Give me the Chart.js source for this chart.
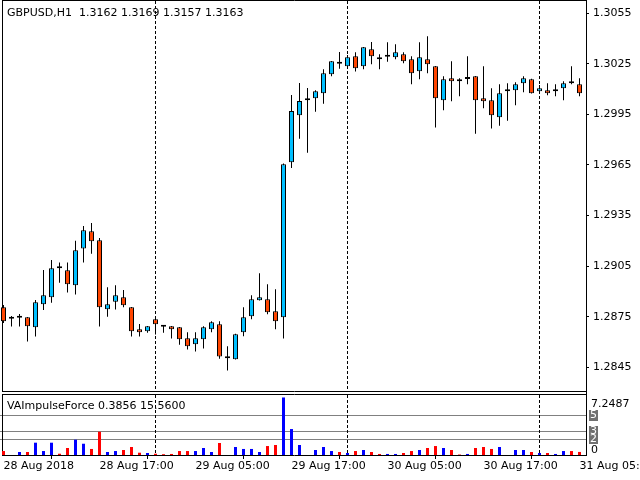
<!DOCTYPE html>
<html>
<head>
<meta charset="utf-8">
<script src="https://cdn.jsdelivr.net/npm/chart.js@4.4.1/dist/chart.umd.min.js"></script>
<style>
  html, body { margin: 0; padding: 0; background: #fff; }
  #wrap { position: relative; width: 640px; height: 480px; overflow: hidden; }
  #priceChart { position: absolute; left: 0; top: 0; }
  #impulseChart { position: absolute; left: 0; top: 392px; }
</style>
</head>
<body>
<div id="wrap">
  <canvas id="priceChart" width="640" height="392"></canvas>
  <canvas id="impulseChart" width="640" height="88"></canvas>
</div>
<script>
// GBPUSD H1 bars, 28 Aug 2018 05:00 .. 31 Aug 2018 05:00
var openP = [1.28806,1.28737,1.28744,1.28747,1.28687,1.28824,1.28865,1.29040,1.29026,1.28937,
             1.29154,1.29257,1.29203,1.28794,1.28838,1.28865,1.28806,1.28676,1.28664,1.28735,
             1.28692,1.28693,1.28687,1.28622,1.28586,1.28616,1.28676,1.28705,1.28504,1.28498,
             1.28658,1.28753,1.28848,1.28854,1.28782,1.28747,1.29666,1.29945,1.30034,1.30046,
             1.30076,1.30188,1.30252,1.30236,1.30295,1.30236,1.30336,1.30289,1.30292,1.30289,
             1.30307,1.30277,1.30206,1.30277,1.30236,1.30034,1.30165,1.30159,1.30160,1.30176,
             1.30046,1.30034,1.29933,1.30087,1.30093,1.30135,1.30159,1.30087,1.30093,1.30088,
             1.30105,1.30147,1.30129];
var highP = [1.28820,1.28754,1.28766,1.28748,1.28849,1.29027,1.29087,1.29071,1.29071,1.29201,
             1.29288,1.29306,1.29217,1.28925,1.28937,1.28909,1.28808,1.28707,1.28695,1.28737,
             1.28695,1.28695,1.28689,1.28658,1.28658,1.28693,1.28723,1.28723,1.28575,1.28648,
             1.28806,1.28877,1.29008,1.28942,1.28913,1.29659,1.30066,1.30137,1.30107,1.30093,
             1.30218,1.30267,1.30320,1.30303,1.30319,1.30350,1.30380,1.30307,1.30378,1.30366,
             1.30319,1.30295,1.30378,1.30414,1.30238,1.30176,1.30265,1.30165,1.30295,1.30178,
             1.30236,1.30105,1.30129,1.30135,1.30141,1.30176,1.30161,1.30125,1.30135,1.30129,
             1.30147,1.30236,1.30165];
var lowP  = [1.28713,1.28691,1.28691,1.28602,1.28632,1.28790,1.28833,1.28952,1.28893,1.28881,
             1.29071,1.29124,1.28691,1.28750,1.28792,1.28806,1.28632,1.28632,1.28655,1.28644,
             1.28655,1.28620,1.28584,1.28555,1.28543,1.28561,1.28658,1.28501,1.28430,1.28496,
             1.28634,1.28735,1.28846,1.28765,1.28676,1.28620,1.29632,1.29806,1.29723,1.29966,
             1.30014,1.30176,1.30221,1.30226,1.30204,1.30218,1.30248,1.30218,1.30263,1.30277,
             1.30253,1.30129,1.30159,1.30194,1.29872,1.29975,1.30028,1.30058,1.30129,1.29836,
             1.29987,1.29866,1.29883,1.29913,1.30004,1.30081,1.30074,1.30077,1.30064,1.30058,
             1.30034,1.30129,1.30058];
var closeP = [1.28723,1.28737,1.28756,1.28693,1.28836,1.28877,1.29037,1.29038,1.28943,1.29144,
              1.29263,1.29198,1.28806,1.28824,1.28877,1.28818,1.28664,1.28658,1.28693,1.28705,
              1.28690,1.28676,1.28616,1.28575,1.28622,1.28687,1.28717,1.28513,1.28504,1.28646,
              1.28747,1.28854,1.28865,1.28776,1.28723,1.29654,1.29970,1.30030,1.30034,1.30087,
              1.30194,1.30265,1.30250,1.30289,1.30224,1.30348,1.30295,1.30277,1.30293,1.30319,
              1.30265,1.30194,1.30289,1.30248,1.30046,1.30159,1.30147,1.30147,1.30161,1.30034,
              1.30028,1.29945,1.30076,1.30087,1.30129,1.30165,1.30076,1.30105,1.30076,1.30090,
              1.30135,1.30135,1.30076];
// VAImpulseForce histogram, sign gives the colour (minus = red)
var impulse = [-0.50,0,0.38,-0.38,1.55,0.50,1.55,-0.16,-0.88,1.93,
               1.42,-0.76,-2.93,0.38,0.50,-0.63,-1.01,-0.29,0.25,-0.16,
               -0.10,-0.13,-0.50,-0.50,0.50,0.88,0.38,-1.51,0,1.01,
               0.76,0.76,0.38,-1.13,-1.26,7.2487,3.27,1.26,0,0.63,
               1.01,0.50,-0.38,0.25,-0.50,0.63,-0.38,-0.13,0.13,0.13,
               -0.25,-0.50,0.63,-0.88,-1.13,0.88,-0.63,-0.06,0.13,-0.88,
               -1.01,-0.76,1.01,0,0.63,0.63,-0.38,0.25,-0.25,0.13,
               0.50,-0.50,-0.3856];
var priceTicks = [1.2845, 1.2875, 1.2905, 1.2935, 1.2965, 1.2995, 1.3025, 1.3055];
var timeTickBars = [0, 12, 24, 36, 48, 60, 72];
var timeTickLabels = ['28 Aug 2018', '28 Aug 17:00', '29 Aug 05:00', '29 Aug 17:00',
                      '30 Aug 05:00', '30 Aug 17:00', '31 Aug 05:00'];
var daySeparators = [19, 43, 67];
var impulseLevels = [5, 3, 2];

var mainTitle = 'GBPUSD,H1  1.3162 1.3169 1.3157 1.3163';
var subTitle = 'VAImpulseForce 0.3856 15.5600';

var upColor = '#00BFFF', downColor = '#FF4500';
var FONT = '11px "DejaVu Sans"';

Chart.defaults.font.family = 'DejaVu Sans';
Chart.defaults.font.size = 11;
Chart.defaults.color = '#000';

var bodies = [], wicks = [], bodyColors = [];
for (var i = 0; i < openP.length; i++) {
    bodies.push({x: i, y: [Math.min(openP[i], closeP[i]), Math.max(openP[i], closeP[i])]});
    wicks.push({x: i, y: [lowP[i], highP[i]]});
    bodyColors.push(closeP[i] > openP[i] ? upColor : downColor);
}
var impBars = [], impColors = [];
for (var j = 0; j < impulse.length; j++) {
    impBars.push({x: j, y: Math.abs(impulse[j])});
    impColors.push(impulse[j] < 0 ? '#FF0000' : '#0000FF');
}

var xMin = -0.4375, xMax = 72.8125;

var separators = function(chart) {
    var ctx = chart.ctx, a = chart.chartArea, xs = chart.scales.x;
    ctx.save();
    ctx.strokeStyle = '#000';
    ctx.lineWidth = 1;
    ctx.setLineDash([3, 2]);
    daySeparators.forEach(function(b) {
        var px = Math.floor(xs.getPixelForValue(b)) + 0.5;
        ctx.beginPath();
        ctx.moveTo(px, a.top);
        ctx.lineTo(px, a.bottom);
        ctx.stroke();
    });
    ctx.restore();
};

var frame = function(ctx, top, bottom) {
    ctx.save();
    ctx.strokeStyle = '#000';
    ctx.lineWidth = 1;
    ctx.beginPath();
    ctx.moveTo(2.5, top); ctx.lineTo(2.5, bottom + 1);
    ctx.moveTo(2, top + 0.5); ctx.lineTo(587, top + 0.5);
    ctx.moveTo(2, bottom + 0.5); ctx.lineTo(587, bottom + 0.5);
    ctx.moveTo(586.5, 0); ctx.lineTo(586.5, bottom + 1);
    ctx.stroke();
    ctx.restore();
};

var mainDecor = {
    id: 'mainDecor',
    beforeDatasetsDraw: function(chart) {
        separators(chart);
        frame(chart.ctx, 0, 391);
    },
    afterDraw: function(chart) {
        var ctx = chart.ctx;
        ctx.save();
        ctx.font = FONT;
        ctx.fillStyle = '#000';
        ctx.textBaseline = 'alphabetic';
        ctx.fillText(mainTitle, 7, 15.5);
        ctx.restore();
    }
};

var subDecor = {
    id: 'subDecor',
    beforeDatasetsDraw: function(chart) {
        separators(chart);
        frame(chart.ctx, 2, 63);
    },
    afterDraw: function(chart) {
        var ctx = chart.ctx, ys = chart.scales.y;
        ctx.save();
        ctx.font = FONT;
        ctx.fillStyle = '#000';
        ctx.textBaseline = 'alphabetic';
        ctx.fillText(subTitle, 7, 16.5);
        var maxV = Math.max.apply(null, impulse.map(Math.abs));
        ctx.fillText(maxV.toFixed(4), 591, 15);
        impulseLevels.forEach(function(L) {
            var py = Math.round(ys.getPixelForValue(L));
            ctx.fillStyle = '#707070';
            ctx.fillRect(589, py - 5, 9, 11);
            ctx.fillStyle = '#fff';
            ctx.textAlign = 'center';
            ctx.textBaseline = 'middle';
            ctx.fillText(String(L), 593.5, py + 0.5);
        });
        var p0 = ys.getPixelForValue(0);
        ctx.fillStyle = '#fff';
        ctx.fillRect(588, p0 - 11, 14, 11);
        ctx.fillStyle = '#000';
        ctx.textAlign = 'left';
        ctx.textBaseline = 'alphabetic';
        ctx.fillText('0', 591, p0 - 2.3);
        ctx.restore();
    }
};

var priceChart = new Chart(document.getElementById('priceChart'), {
    type: 'bar',
    data: {
        datasets: [{
            label: 'body',
            data: bodies,
            backgroundColor: bodyColors,
            borderColor: '#000',
            borderWidth: 1,
            borderSkipped: false,
            barThickness: 5,
            minBarLength: 2,
            inflateAmount: 0,
            grouped: false,
            order: 0
        }, {
            label: 'wick',
            data: wicks,
            backgroundColor: '#000',
            borderWidth: 0,
            barThickness: 1,
            inflateAmount: 0,
            grouped: false,
            order: 1
        }]
    },
    options: {
        responsive: false,
        animation: false,
        devicePixelRatio: 1,
        layout: { padding: { top: 1, bottom: 1, left: 0, right: 0 } },
        plugins: { legend: { display: false }, tooltip: { enabled: false } },
        scales: {
            x: { type: 'linear', min: xMin, max: xMax, offset: false, display: false },
            y: {
                position: 'right',
                min: 1.28309,
                max: 1.30623,
                border: { display: false },
                grid: { drawOnChartArea: false, drawTicks: true, tickLength: 3, color: '#000' },
                ticks: {
                    padding: 4,
                    autoSkip: false,
                    callback: function(v) { return Number(v).toFixed(4); }
                },
                afterBuildTicks: function(s) {
                    s.ticks = priceTicks.map(function(v) { return {value: v}; });
                },
                afterFit: function(s) { s.width = 54; s.paddingTop = 0; s.paddingBottom = 0; }
            }
        }
    },
    plugins: [mainDecor]
});

var impulseChart = new Chart(document.getElementById('impulseChart'), {
    type: 'bar',
    data: {
        datasets: [{
            label: 'VAImpulseForce',
            data: impBars,
            backgroundColor: impColors,
            borderWidth: 0,
            barThickness: 3,
            inflateAmount: 0,
            grouped: false
        }]
    },
    options: {
        responsive: false,
        animation: false,
        devicePixelRatio: 1,
        layout: { padding: { top: 3, bottom: 0, left: 0, right: 0 } },
        plugins: { legend: { display: false }, tooltip: { enabled: false } },
        scales: {
            x: {
                type: 'linear',
                min: xMin,
                max: xMax,
                offset: false,
                border: { display: false },
                grid: { drawOnChartArea: false, drawTicks: true, tickLength: 4, color: '#000' },
                ticks: {
                    align: 'start',
                    autoSkip: false,
                    maxRotation: 0,
                    padding: 1,
                    callback: function(v, idx) { return timeTickLabels[idx]; }
                },
                afterBuildTicks: function(s) {
                    s.ticks = timeTickBars.map(function(v) { return {value: v}; });
                },
                afterFit: function(s) { s.height = 25; s.paddingLeft = 0; s.paddingRight = 0; }
            },
            y: {
                position: 'right',
                min: 0,
                max: 7.56,
                border: { display: false },
                grid: { color: '#808080', drawTicks: false },
                ticks: { display: false },
                afterBuildTicks: function(s) {
                    s.ticks = impulseLevels.map(function(v) { return {value: v}; });
                },
                afterFit: function(s) { s.width = 54; }
            }
        }
    },
    plugins: [subDecor]
});
</script>
</body>
</html>
